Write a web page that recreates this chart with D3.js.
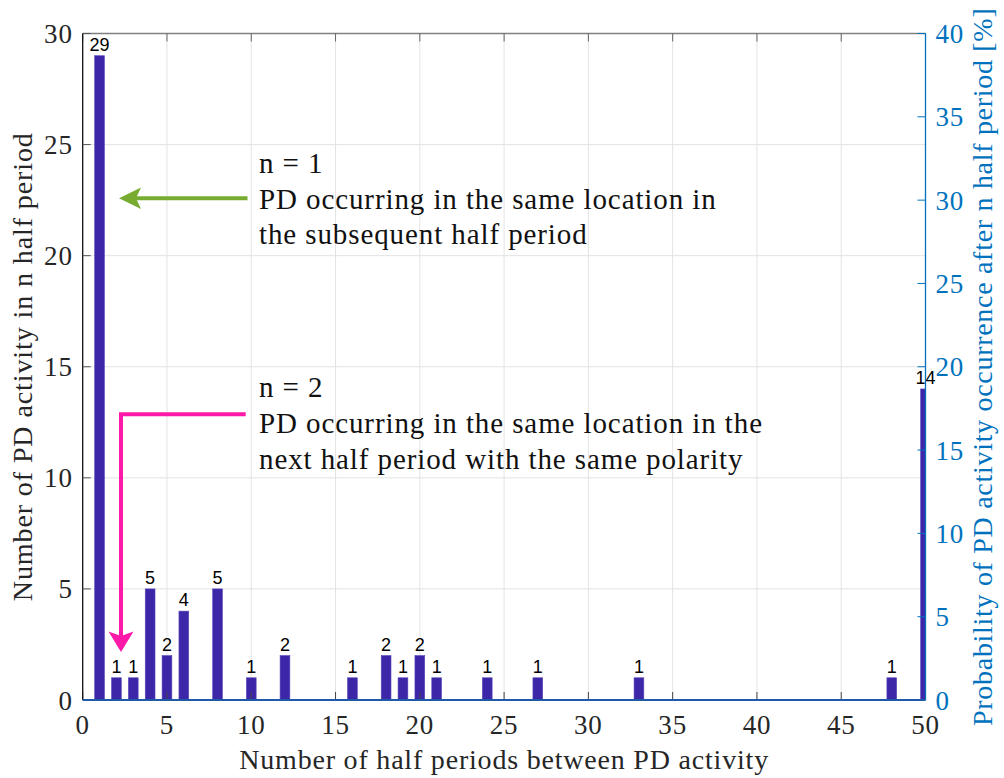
<!DOCTYPE html>
<html>
<head>
<meta charset="utf-8">
<script src="https://cdn.jsdelivr.net/npm/d3@7"></script>
<style>
  html, body { margin: 0; padding: 0; background: #fff; }
  svg { display: block; }
</style>
</head>
<body>
<svg id="chart" width="1004" height="778"></svg>
<script>
// Histogram of half-period gaps between PD activity
const gaps   = [1, 2, 3, 4, 5, 6, 8, 10, 12, 16, 18, 19, 20, 21, 24, 27, 33, 48, 50];
const counts = [29, 1, 1, 5, 2, 4, 5, 1, 2, 1, 2, 1, 2, 1, 1, 1, 1, 1, 14];

const xTicks      = [0, 5, 10, 15, 20, 25, 30, 35, 40, 45, 50];
const leftTicks   = [0, 5, 10, 15, 20, 25, 30];
const rightTicks  = [0, 5, 10, 15, 20, 25, 30, 35, 40];

const xTitle     = "Number of half periods between PD activity";
const leftTitle  = "Number of PD activity in n half period";
const rightTitle = "Probability of PD activity occurrence after n half period [%]";

const note1 = ["n = 1", "PD occurring in the same location in", "the subsequent half period"];
const note2 = ["n = 2", "PD occurring in the same location in the", "next half period with the same polarity"];

const m = { left: 82.7, right: 925.5, top: 33.5, bottom: 700 };

const svg = d3.select("#chart");
const serif = "Liberation Serif";
const sans  = "Liberation Sans";
const blue  = "#0072bd";
const ink   = "#262626";

const x  = d3.scaleLinear().domain([0, 50]).range([m.left, m.right]);
const yL = d3.scaleLinear().domain([0, 30]).range([m.bottom, m.top]);
const yR = d3.scaleLinear().domain([0, 40]).range([m.bottom, m.top]);

// grid
const grid = svg.append("g").attr("stroke", "#e3e3e3").attr("stroke-width", 1);
xTicks.slice(1, -1).forEach(t => grid.append("line")
  .attr("x1", x(t)).attr("x2", x(t)).attr("y1", m.top).attr("y2", m.bottom));
leftTicks.slice(1, -1).forEach(t => grid.append("line")
  .attr("x1", m.left).attr("x2", m.right).attr("y1", yL(t)).attr("y2", yL(t)));

// bars, clipped to the axes box
svg.append("clipPath").attr("id", "plotclip").append("rect")
  .attr("x", m.left).attr("y", m.top)
  .attr("width", m.right - m.left).attr("height", m.bottom - m.top);

const bw = 0.58;
const data = gaps.map((g, i) => ({ g, c: counts[i] }));
svg.append("g").attr("clip-path", "url(#plotclip)")
  .selectAll("rect").data(data).join("rect")
  .attr("x", d => x(d.g - bw / 2))
  .attr("width", x(bw) - x(0))
  .attr("y", d => yL(d.c))
  .attr("height", d => yL(0) - yL(d.c))
  .attr("fill", "#3e26a8")
  .attr("stroke", "#5a48b8").attr("stroke-width", 0.6);

// value labels
svg.append("g").selectAll("text").data(data).join("text")
  .attr("x", d => x(d.g))
  .attr("y", d => yL(d.c) - 5)
  .attr("text-anchor", "middle")
  .attr("font-family", sans).attr("font-size", 18).attr("fill", "#000")
  .text(d => d.c);

// axes box
const tickLen = 8;
const axisG = svg.append("g");
axisG.append("line").attr("x1", m.left).attr("x2", m.right).attr("y1", m.top).attr("y2", m.top)
  .attr("stroke", "#808080").attr("stroke-width", 1.3);
xTicks.forEach(t => {
  axisG.append("line").attr("x1", x(t)).attr("x2", x(t)).attr("y1", m.top).attr("y2", m.top + tickLen)
    .attr("stroke", "#666").attr("stroke-width", 1);
  axisG.append("line").attr("x1", x(t)).attr("x2", x(t)).attr("y1", m.bottom).attr("y2", m.bottom - tickLen)
    .attr("stroke", "#444").attr("stroke-width", 1);
});
axisG.append("line").attr("x1", m.left).attr("x2", m.left).attr("y1", m.top).attr("y2", m.bottom)
  .attr("stroke", "#111").attr("stroke-width", 1.3);
leftTicks.forEach(t => axisG.append("line")
  .attr("x1", m.left).attr("x2", m.left + tickLen).attr("y1", yL(t)).attr("y2", yL(t))
  .attr("stroke", "#555").attr("stroke-width", 1));
axisG.append("line").attr("x1", m.right).attr("x2", m.right).attr("y1", m.top).attr("y2", m.bottom)
  .attr("stroke", blue).attr("stroke-width", 1.3);
rightTicks.forEach(t => axisG.append("line")
  .attr("x1", m.right).attr("x2", m.right - tickLen).attr("y1", yR(t)).attr("y2", yR(t))
  .attr("stroke", blue).attr("stroke-width", 1));
axisG.append("line").attr("x1", m.left).attr("x2", m.right).attr("y1", m.bottom).attr("y2", m.bottom)
  .attr("stroke", "#1f5aa8").attr("stroke-width", 2);

// tick labels
const fsTick = 27, lsTick = 0.8;
svg.append("g").selectAll("text").data(xTicks).join("text")
  .attr("x", d => x(d)).attr("y", m.bottom + 34)
  .attr("text-anchor", "middle").attr("font-family", serif).attr("font-size", fsTick)
  .attr("letter-spacing", lsTick).attr("fill", ink)
  .text(d => d);
svg.append("g").selectAll("text").data(leftTicks).join("text")
  .attr("x", m.left - 10).attr("y", d => yL(d) + 9.5)
  .attr("text-anchor", "end").attr("font-family", serif).attr("font-size", fsTick)
  .attr("letter-spacing", lsTick).attr("fill", ink)
  .text(d => d);
svg.append("g").selectAll("text").data(rightTicks).join("text")
  .attr("x", m.right + 10).attr("y", d => yR(d) + 9.5)
  .attr("text-anchor", "start").attr("font-family", serif).attr("font-size", fsTick)
  .attr("letter-spacing", lsTick).attr("fill", blue)
  .text(d => d);

// axis titles
const cy = (m.top + m.bottom) / 2;
const fsTitle = 28, lsTitle = 0.8;
svg.append("text").attr("x", (m.left + m.right) / 2 + 0).attr("y", 769)
  .attr("text-anchor", "middle").attr("font-family", serif).attr("font-size", fsTitle)
  .attr("letter-spacing", lsTitle).attr("fill", ink)
  .text(xTitle);
svg.append("text").attr("transform", `translate(32,${cy}) rotate(-90)`)
  .attr("text-anchor", "middle").attr("font-family", serif).attr("font-size", fsTitle)
  .attr("letter-spacing", lsTitle + 0.1).attr("fill", ink)
  .text(leftTitle);
svg.append("text").attr("transform", `translate(992,${cy}) rotate(-90)`)
  .attr("text-anchor", "middle").attr("font-family", serif).attr("font-size", fsTitle)
  .attr("letter-spacing", lsTitle - 0.1).attr("fill", blue)
  .text(rightTitle);

// annotations
function note(lines, x0, y0, step) {
  const t = svg.append("text").attr("font-family", serif).attr("font-size", 29)
    .attr("letter-spacing", 0.9).attr("fill", "#111");
  lines.forEach((s, i) => t.append("tspan").attr("x", x0).attr("y", y0 + i * step).text(s));
}
note(note1, 259, 173, 35.5);
note(note2, 259, 397, 36);

// n = 1 arrow (green)
const green = "#77ac30";
svg.append("line").attr("x1", 247.5).attr("y1", 198.3).attr("x2", 135).attr("y2", 198.3)
  .attr("stroke", green).attr("stroke-width", 4);
svg.append("path").attr("d", "M119,198.3 L141,187.5 L136,198.3 L141,209 Z").attr("fill", green);

// n = 2 arrow (magenta)
const pink = "#ff19a8";
svg.append("path").attr("d", "M245.7,414.3 H121 V638")
  .attr("fill", "none").attr("stroke", pink).attr("stroke-width", 4);
svg.append("path").attr("d", "M121,652 L108.5,631.5 L121,636 L133.5,631.5 Z").attr("fill", pink);
</script>
</body>
</html>
